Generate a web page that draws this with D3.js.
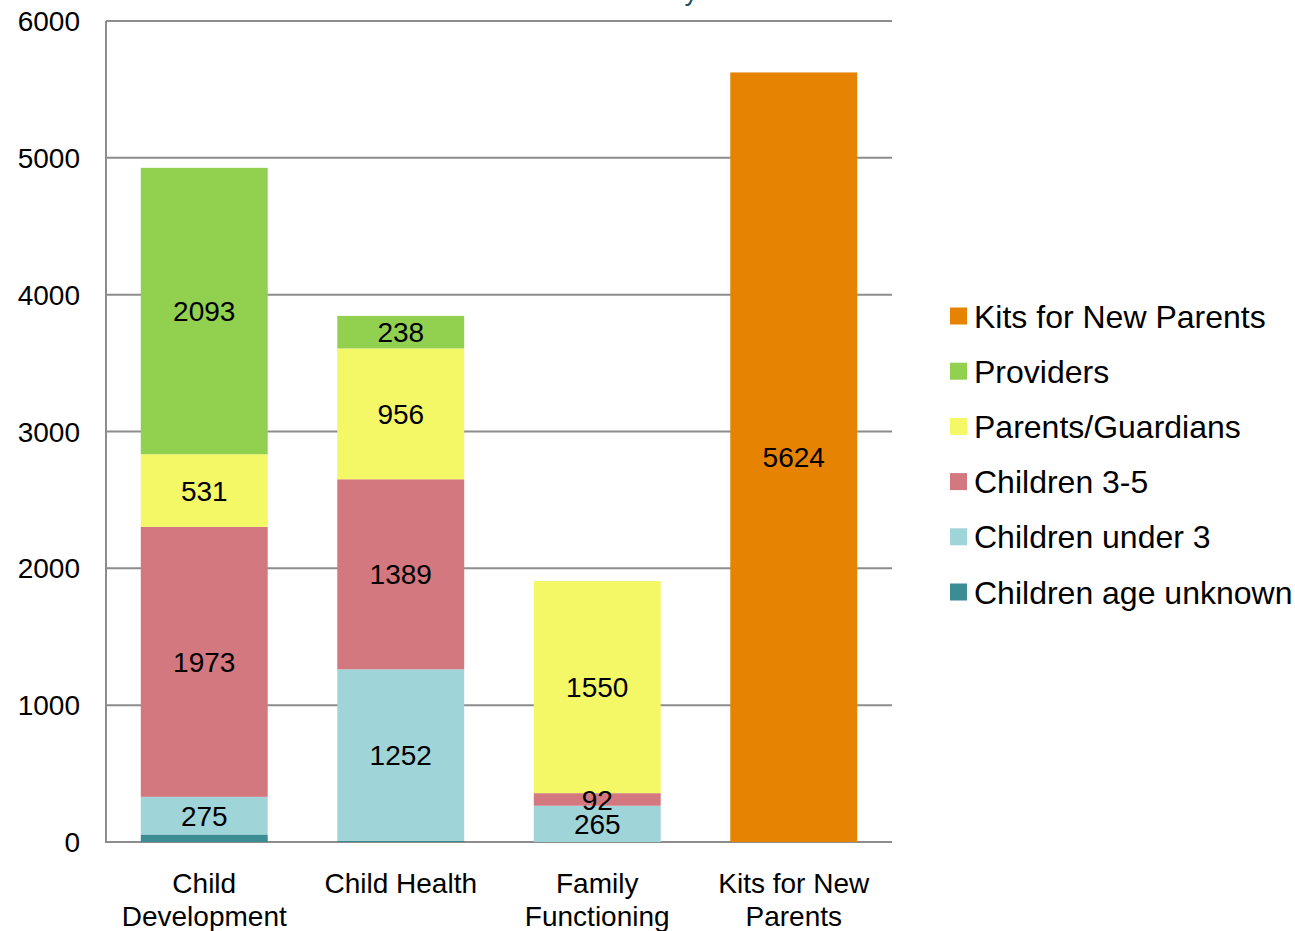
<!DOCTYPE html>
<html>
<head>
<meta charset="utf-8">
<script src="https://cdn.jsdelivr.net/npm/d3@7"></script>
<style>
  body { margin: 0; background: #fff; }
  svg text { font-family: "Liberation Sans", Arial, sans-serif; }
</style>
</head>
<body>
<svg id="chart" width="1295" height="931"></svg>
<script>
// categories along the x axis (split into lines for the labels)
const categories = ["Child Development", "Child Health", "Family Functioning", "Kits for New Parents"];
const categoryLines = [["Child", "Development"], ["Child Health"], ["Family", "Functioning"], ["Kits for New", "Parents"]];

// series, bottom of stack first
const seriesNames = ["Children age unknown", "Children under 3", "Children 3-5", "Parents/Guardians", "Providers", "Kits for New Parents"];
const seriesColors = ["#3c8d93", "#9fd4d8", "#d47880", "#f4f766", "#92d050", "#e68303"];

const ageUnknown  = [55, 10, 0, 0];
const under3      = [275, 1252, 265, 0];
const children35  = [1973, 1389, 92, 0];
const parents     = [531, 956, 1550, 0];
const providers   = [2093, 238, 0, 0];
const kits        = [0, 0, 0, 5624];

// labels are shown for these series only
const labelled = [false, true, true, true, true, true];

const yTicks = [0, 1000, 2000, 3000, 4000, 5000, 6000];

const svg = d3.select("#chart");
const size = { left: 106, right: 892, top: 21, bottom: 842 };

// build a table that d3.stack can use
const table = categories.map((c, i) => ({
    category: c,
    "Children age unknown": ageUnknown[i],
    "Children under 3": under3[i],
    "Children 3-5": children35[i],
    "Parents/Guardians": parents[i],
    "Providers": providers[i],
    "Kits for New Parents": kits[i]
}));

const stacked = d3.stack().keys(seriesNames)(table);

const x = d3.scaleBand()
    .domain(categories)
    .range([size.left, size.right])
    .paddingInner(0.354)
    .paddingOuter(0.177);

const y = d3.scaleLinear()
    .domain([0, 6000])
    .range([size.bottom, size.top]);

const color = d3.scaleOrdinal().domain(seriesNames).range(seriesColors);

// cut-off title at the very top, only the last descender shows
svg.append("text")
    .attr("x", 698)
    .attr("y", -0.5)
    .attr("text-anchor", "end")
    .attr("font-size", 27)
    .attr("fill", "#1f4e5a")
    .text("Number of Attendees Served Annually");

// gridlines
svg.append("g")
    .selectAll("line")
    .data(yTicks)
    .join("line")
    .attr("x1", size.left)
    .attr("x2", size.right)
    .attr("y1", d => y(d))
    .attr("y2", d => y(d))
    .attr("stroke", "#8c8c8c")
    .attr("stroke-width", 2);

// y axis line
svg.append("line")
    .attr("x1", size.left).attr("x2", size.left)
    .attr("y1", size.top).attr("y2", size.bottom + 1)
    .attr("stroke", "#8c8c8c")
    .attr("stroke-width", 2);

// tick labels
svg.append("g")
    .selectAll("text")
    .data(yTicks)
    .join("text")
    .attr("x", 80)
    .attr("y", d => y(d))
    .attr("dy", "0.36em")
    .attr("text-anchor", "end")
    .attr("font-size", 28)
    .attr("fill", "#000")
    .text(d => d);

// bars
const layer = svg.append("g")
    .selectAll("g")
    .data(stacked)
    .join("g")
    .attr("fill", d => color(d.key));

layer.selectAll("rect")
    .data(d => d.filter(s => s[1] - s[0] > 0))
    .join("rect")
    .attr("x", d => x(d.data.category))
    .attr("width", x.bandwidth())
    .attr("y", d => y(d[1]))
    .attr("height", d => y(d[0]) - y(d[1]));

// value labels
svg.append("g")
    .selectAll("g")
    .data(stacked.filter((s, i) => labelled[i]))
    .join("g")
    .selectAll("text")
    .data(d => d.filter(s => s[1] - s[0] > 0))
    .join("text")
    .attr("x", d => x(d.data.category) + x.bandwidth() / 2)
    .attr("y", d => (y(d[0]) + y(d[1])) / 2)
    .attr("dy", "0.36em")
    .attr("text-anchor", "middle")
    .attr("font-size", 28)
    .attr("fill", "#000")
    .text(d => d[1] - d[0]);

// category labels
svg.append("g")
    .selectAll("text")
    .data(categories)
    .join("text")
    .attr("x", d => x(d) + x.bandwidth() / 2)
    .attr("text-anchor", "middle")
    .attr("font-size", 28)
    .attr("fill", "#000")
    .selectAll("tspan")
    .data((d, i) => categoryLines[i])
    .join("tspan")
    .attr("x", function () { return this.parentNode.getAttribute("x"); })
    .attr("y", (d, i) => 893 + i * 33)
    .text(d => d);

// legend, top of stack first
const legendItems = seriesNames.slice().reverse();
const legend = svg.append("g")
    .selectAll("g")
    .data(legendItems)
    .join("g")
    .attr("transform", (d, i) => `translate(950,${316 + i * 55.2})`);

legend.append("rect")
    .attr("x", 0)
    .attr("y", -8.5)
    .attr("width", 17)
    .attr("height", 17)
    .attr("fill", d => color(d));

legend.append("text")
    .attr("x", 24)
    .attr("y", 0)
    .attr("dy", "0.36em")
    .attr("font-size", 32)
    .attr("fill", "#000")
    .text(d => d);
</script>
</body>
</html>
